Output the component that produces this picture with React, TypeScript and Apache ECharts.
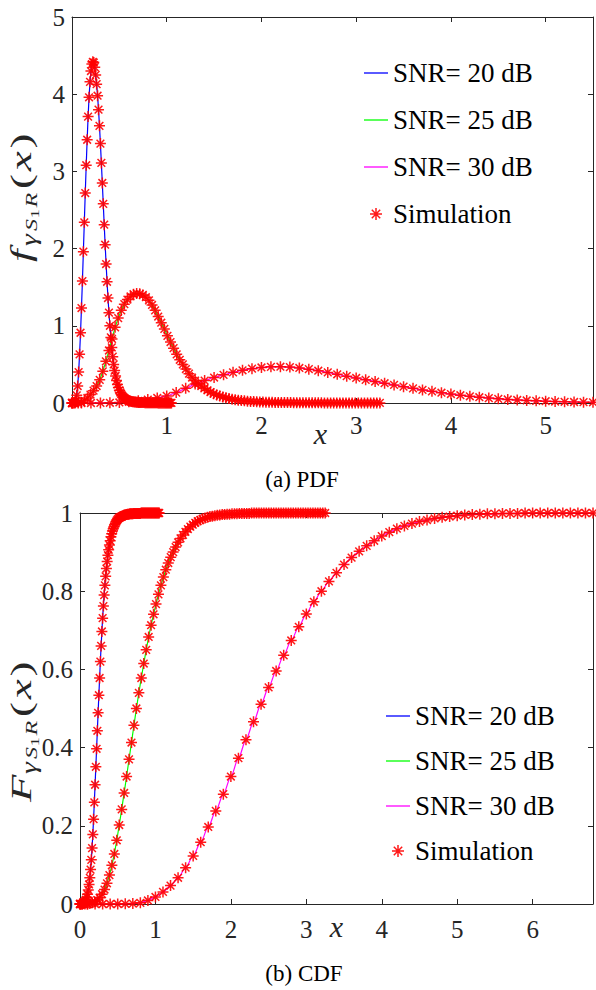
import React, { useEffect, useRef } from 'react';
import * as echarts from 'echarts';

// ---------- data ----------
const STEP20 = 0.01;
const STEP25 = 0.0325;
const STEP30 = 0.1;

const pdf20 = [
  0, 0, 0, 0.01, 0.03, 0.1, 0.22, 0.4, 0.63, 0.91,
  1.23, 1.58, 1.96, 2.34, 2.72, 3.08, 3.41, 3.71, 3.96, 4.16,
  4.3, 4.39, 4.42, 4.41, 4.35, 4.25, 4.13, 3.98, 3.8, 3.59,
  3.36, 3.11, 2.85, 2.58, 2.31, 2.05, 1.8, 1.57, 1.36, 1.17,
  1.0, 0.85, 0.72, 0.6, 0.5, 0.42, 0.35, 0.29, 0.24, 0.2,
  0.165, 0.137, 0.114, 0.095, 0.08, 0.067, 0.057, 0.048, 0.041, 0.035,
  0.03, 0.026, 0.022, 0.019, 0.017, 0.015, 0.013, 0.012, 0.01, 0.009,
  0.008, 0.007, 0.007, 0.006, 0.006, 0.005, 0.005, 0.004, 0.004, 0.004,
  0.003, 0.003, 0.003, 0.003, 0.002, 0.002, 0.002, 0.002, 0.002, 0.002,
  0.002, 0.001, 0.001, 0.001, 0.001, 0.001, 0.001, 0.001, 0.001, 0.001,
  0.001, 0.001, 0.001, 0.001, 0.001, 0.001,
];

const pdf25 = [
  0, 0, 0.001, 0.008, 0.03, 0.065, 0.11, 0.16, 0.22, 0.3,
  0.41, 0.54, 0.68, 0.83, 0.98, 1.1, 1.2, 1.28, 1.34, 1.38,
  1.41, 1.42, 1.415, 1.4, 1.37, 1.33, 1.27, 1.2, 1.12, 1.04,
  0.96, 0.87, 0.79, 0.71, 0.63, 0.56, 0.5, 0.44, 0.38, 0.33,
  0.29, 0.25, 0.22, 0.19, 0.165, 0.14, 0.12, 0.105, 0.09, 0.078,
  0.067, 0.058, 0.05, 0.043, 0.037, 0.032, 0.028, 0.024, 0.021, 0.018,
  0.016, 0.014, 0.012, 0.011, 0.01, 0.009, 0.008, 0.007, 0.006, 0.006,
  0.005, 0.005, 0.004, 0.004, 0.003, 0.003, 0.003, 0.002, 0.002, 0.002,
  0.002, 0.002, 0.001, 0.001, 0.001, 0.001, 0.001, 0.001, 0.001, 0.001,
  0.001, 0.001, 0.001, 0.001, 0.001, 0.001, 0.001, 0.001, 0.001, 0.001,
  0.001,
];

const pdf30 = [
  0, 0, 0, 0.001, 0.003, 0.007, 0.016, 0.028, 0.045, 0.065,
  0.092, 0.135, 0.19, 0.245, 0.29, 0.33, 0.365, 0.397, 0.424, 0.445,
  0.46, 0.468, 0.47, 0.465, 0.454, 0.438, 0.418, 0.396, 0.372, 0.348,
  0.324, 0.3, 0.278, 0.256, 0.234, 0.212, 0.19, 0.17, 0.151, 0.133,
  0.116, 0.101, 0.087, 0.075, 0.064, 0.054, 0.046, 0.039, 0.033, 0.028,
  0.023, 0.019, 0.016, 0.013, 0.011, 0.009, 0.008, 0.007, 0.006, 0.005,
  0.004, 0.004, 0.003, 0.003, 0.002, 0.002, 0.002, 0.001, 0.001,
];

const cdf20 = [
  0, 0, 0, 0, 0.001, 0.002, 0.004, 0.007, 0.011, 0.017,
  0.025, 0.036, 0.05, 0.067, 0.088, 0.113, 0.143, 0.178, 0.217, 0.26,
  0.305, 0.351, 0.397, 0.443, 0.489, 0.534, 0.578, 0.62, 0.66, 0.697,
  0.731, 0.762, 0.79, 0.815, 0.838, 0.858, 0.876, 0.892, 0.906, 0.918,
  0.929, 0.939, 0.947, 0.954, 0.96, 0.965, 0.97, 0.974, 0.978, 0.981,
  0.984, 0.986, 0.988, 0.989, 0.99, 0.991, 0.992, 0.993, 0.994, 0.995,
  0.995, 0.996, 0.996, 0.997, 0.997, 0.997, 0.998, 0.998, 0.998, 0.998,
  0.998, 0.999, 0.999, 0.999, 0.999, 0.999, 0.999, 0.999, 0.999, 0.999,
  0.999, 1, 1, 1, 1, 1, 1, 1, 1, 1,
  1, 1, 1, 1, 1, 1, 1, 1, 1, 1,
  1, 1, 1, 1, 1, 1,
];

const cdf25 = [
  0, 0, 0, 0.0003, 0.001, 0.003, 0.006, 0.01, 0.016, 0.025,
  0.037, 0.053, 0.074, 0.099, 0.128, 0.163, 0.202, 0.242, 0.284, 0.326,
  0.37, 0.413, 0.457, 0.5, 0.54, 0.578, 0.615, 0.65, 0.683, 0.713,
  0.741, 0.767, 0.792, 0.815, 0.836, 0.855, 0.872, 0.887, 0.9, 0.913,
  0.925, 0.935, 0.944, 0.952, 0.959, 0.965, 0.97, 0.975, 0.979, 0.982,
  0.985, 0.987, 0.989, 0.991, 0.992, 0.993, 0.994, 0.995, 0.996, 0.996,
  0.997, 0.997, 0.998, 0.998, 0.998, 0.999, 0.999, 0.999, 0.999, 0.999,
  1, 1, 1, 1, 1, 1, 1, 1, 1, 1,
  1, 1, 1, 1, 1, 1, 1, 1, 1, 1,
  1, 1, 1, 1, 1, 1, 1, 1, 1, 1,
  1,
];

const cdf30 = [
  0, 0, 0, 0, 0, 0, 0.0005, 0.001, 0.003, 0.009,
  0.018, 0.031, 0.047, 0.067, 0.093, 0.123, 0.158, 0.197, 0.238, 0.281,
  0.326, 0.373, 0.42, 0.466, 0.511, 0.554, 0.596, 0.636, 0.674, 0.709,
  0.742, 0.773, 0.8, 0.825, 0.847, 0.868, 0.886, 0.902, 0.916, 0.929,
  0.941, 0.951, 0.96, 0.967, 0.973, 0.978, 0.982, 0.986, 0.989, 0.991,
  0.993, 0.995, 0.996, 0.997, 0.998, 0.998, 0.999, 0.999, 0.999, 1,
  1, 1, 1, 1, 1, 1, 1, 1, 1,
];

const seriesNames = ['SNR= 20 dB', 'SNR= 25 dB', 'SNR= 30 dB'];
const simName = 'Simulation';
const captions = ['(a) PDF', '(b) CDF'];
const topX = { min: 0, max: 5.5, interval: 1 };
const topY = { min: 0, max: 5, interval: 1 };
const botX = { min: 0, max: 6.8, interval: 1 };
const botY = { min: 0, max: 1, interval: 0.2 };

// ---------- styles ----------
const lineColors = ['#0000ff', '#00ff00', '#ff00ff'];
const simColor = '#ff0000';
const axisColor = '#262626';
const SERIF = 'Liberation Serif';
const STAR = 'path://M5,0L5,10M0,5L10,5M1.5,1.5L8.5,8.5M1.5,8.5L8.5,1.5';
const LINE_ICON = 'path://M0,0H24V1.3H0Z';

function pairs(vals: number[], step: number) {
  return vals.map((v, i) => [Math.round(i * step * 10000) / 10000, v]);
}

function isInt(v: number) {
  return Math.abs(v - Math.round(v)) < 1e-9;
}

function makeAxes(grid: number, xr: any, yr: any, xFmt: (v: number) => string, xMargin: number, nameGap: number, namePad: number[]) {
  const line = { show: true, onZero: false, lineStyle: { color: axisColor, width: 1 } };
  const tick = { show: true, inside: true, length: 5, lineStyle: { color: axisColor, width: 1 } };
  const label = { fontFamily: SERIF, fontSize: 25, color: axisColor };
  const xAxes = [
    {
      type: 'value', gridIndex: grid, position: 'bottom', ...xr,
      axisLine: line, axisTick: tick, splitLine: { show: false },
      axisLabel: { ...label, margin: xMargin, formatter: xFmt },
      name: 'x', nameLocation: 'middle', nameGap, nameMoveOverlap: false,
      nameTextStyle: { fontFamily: SERIF, fontSize: 30, fontStyle: 'italic', color: axisColor, lineHeight: 22, padding: namePad },
    },
    {
      type: 'value', gridIndex: grid, position: 'top', ...xr,
      axisLine: line, axisTick: tick, splitLine: { show: false }, axisLabel: { show: false },
    },
  ];
  const yAxes = [
    {
      type: 'value', gridIndex: grid, position: 'left', ...yr,
      axisLine: line, axisTick: tick, splitLine: { show: false },
      axisLabel: { ...label, margin: 7 },
    },
    {
      type: 'value', gridIndex: grid, position: 'right', ...yr,
      axisLine: line, axisTick: tick, splitLine: { show: false }, axisLabel: { show: false },
    },
  ];
  return { xAxes, yAxes };
}

function makeSeries(grid: number, sets: number[][][]) {
  const out: any[] = [];
  sets.forEach((data, k) => {
    out.push({
      type: 'line', name: seriesNames[k], xAxisIndex: grid * 2, yAxisIndex: grid * 2,
      data, symbol: 'none', smooth: k === 2 ? 0.3 : false, smoothMonotone: 'x',
      lineStyle: { color: lineColors[k], width: 1.2 }, itemStyle: { color: lineColors[k] },
      z: 2, silent: true,
    });
  });
  sets.forEach((data) => {
    out.push({
      type: 'scatter', name: simName, xAxisIndex: grid * 2, yAxisIndex: grid * 2,
      data, symbol: STAR, symbolSize: 11,
      itemStyle: { color: simColor, borderColor: simColor, borderWidth: 1.5, opacity: 0.9 },
      z: 3, silent: true,
    });
  });
  return out;
}

function yTitle(x: number, y: number, main: string, o: number, mainPos: number) {
  const m = { fontFamily: SERIF, fill: axisColor, textAlign: 'center', textVerticalAlign: 'middle' };
  return {
    type: 'group', x, y, rotation: Math.PI / 2, scaleX: 1.5,
    children: [
      { type: 'text', x: mainPos, y: 0, style: { ...m, text: main, fontSize: 30, fontStyle: 'italic' } },
      { type: 'text', x: 16 + o, y: 8, style: { ...m, text: 'γ', fontSize: 20, fontStyle: 'italic' } },
      { type: 'text', x: 26 + o, y: 11, style: { ...m, text: 'S', fontSize: 16, fontStyle: 'italic' } },
      { type: 'text', x: 33.5 + o, y: 14, style: { ...m, text: '1', fontSize: 12 } },
      { type: 'text', x: 42.5 + o, y: 11, style: { ...m, text: 'R', fontSize: 16, fontStyle: 'italic' } },
      { type: 'text', x: 55 + o, y: 0, style: { ...m, text: '(', fontSize: 30 } },
      { type: 'text', x: 68.5 + o, y: 0, style: { ...m, text: 'x', fontSize: 30, fontStyle: 'italic' } },
      { type: 'text', x: 82 + o, y: 0, style: { ...m, text: ')', fontSize: 30 } },
    ],
  };
}

export default function App() {
  const ref = useRef<HTMLDivElement>(null);
  useEffect(() => {
    if (!ref.current) return;
    const chart = echarts.init(ref.current, null, { renderer: 'svg' });
    const top = makeAxes(0, topX, topY, (v) => (v >= 1 && v <= 5 && isInt(v) ? String(v) : ''), 10, 19, [0, 24, 0, 0]);
    const bot = makeAxes(1, botX, botY, (v) => (isInt(v) ? String(v) : ''), 13, 11, [0, 0, 0, 0]);
    const legendData = [
      ...seriesNames.map((n) => ({ name: n, icon: LINE_ICON })),
      { name: simName, icon: STAR, itemStyle: { color: simColor, borderColor: simColor, borderWidth: 1.5 } },
    ];
    const legendBase = {
      data: legendData, orient: 'vertical', itemWidth: 24, itemHeight: 12,
      padding: 0, selectedMode: false,
      textStyle: { fontFamily: SERIF, fontSize: 27, color: '#000', lineHeight: 30 },
    };
    const option: any = {
      animation: false,
      backgroundColor: '#ffffff',
      textStyle: { fontFamily: SERIF },
      grid: [
        { left: 72, top: 17, width: 524, height: 386 },
        { left: 80, top: 513, width: 514, height: 391 },
      ],
      xAxis: [...top.xAxes, ...bot.xAxes],
      yAxis: [...top.yAxes, ...bot.yAxes],
      legend: [
        { ...legendBase, left: 364, top: 58, itemGap: 17 },
        { ...legendBase, left: 386, top: 701, itemGap: 15 },
      ],
      series: [
        ...makeSeries(0, [pairs(pdf20, STEP20), pairs(pdf25, STEP25), pairs(pdf30, STEP30)]),
        ...makeSeries(1, [pairs(cdf20, STEP20), pairs(cdf25, STEP25), pairs(cdf30, STEP30)]),
      ],
      graphic: [
        yTitle(21, 264, 'f', 0, 5.5),
        yTitle(21, 801, 'F', 6, 8.5),
        { type: 'text', x: 302, y: 479, style: { text: captions[0], fontFamily: SERIF, fontSize: 23, lineHeight: 20, fill: '#000', textAlign: 'center', textVerticalAlign: 'middle' } },
        { type: 'text', x: 304, y: 973, style: { text: captions[1], fontFamily: SERIF, fontSize: 23, lineHeight: 20, fill: '#000', textAlign: 'center', textVerticalAlign: 'middle' } },
      ],
    };
    chart.setOption(option);
    return () => chart.dispose();
  }, []);
  return (
    <div
      ref={ref}
      style={{ position: 'absolute', left: 0, top: 0, width: 596, height: 990, background: '#fff' }}
    />
  );
}
